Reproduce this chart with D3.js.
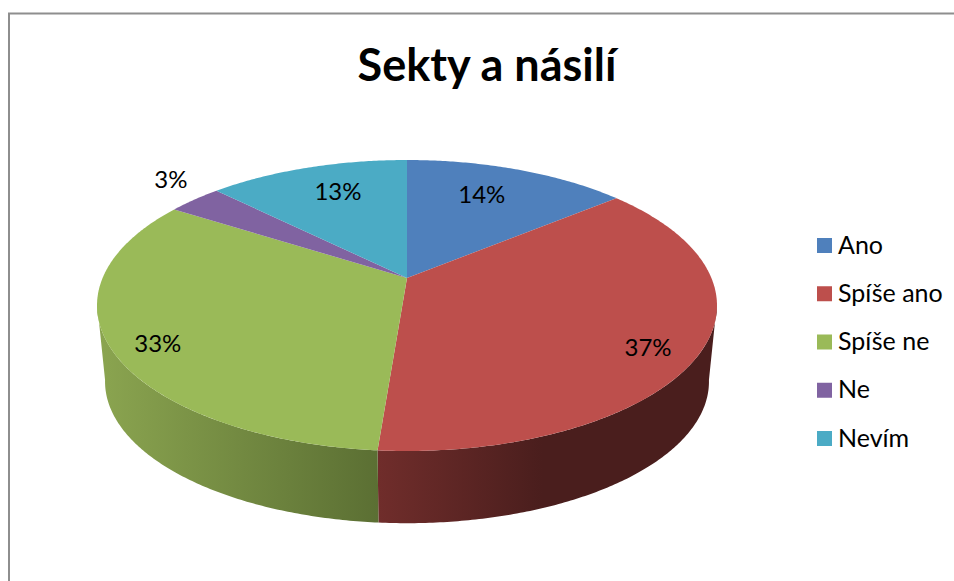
<!DOCTYPE html>
<html>
<head>
<meta charset="utf-8">
<script src="https://cdn.jsdelivr.net/npm/d3@7"></script>
<style>
  html, body { margin: 0; padding: 0; background: #fff; }
  text { font-family: Lato, "Open Sans", sans-serif; fill: #000; }
</style>
</head>
<body>
<div id="chart"></div>
<script>
var width = 954;
var height = 581;

// values, the labels show them rounded
var categories = ["Ano", "Spíše ano", "Spíše ne", "Ne", "Nevím"];
var shares = [14.0, 37.25, 32.8, 3.4, 12.55];
var colors = ["#4f80bc", "#bd4f4c", "#9aba58", "#8063a1", "#4babc5"];
var wallColors = [
  ["#3a5f8c", "#3a5f8c"],
  ["#4a1e1d", "#702d2b"],
  ["#8ba550", "#5b6f33"],
  ["#5e4a78", "#5e4a78"],
  ["#377f92", "#377f92"]
];

// label placement: radius on the pie, then a nudge down or up
var labelRadius = [0.64, 0.828, 0.849, 1.126, 0.658];
var labelNudge = [-2, 20, 17, -3, -2];

var svg = d3.select("#chart").append("svg")
  .attr("width", width)
  .attr("height", height)
  .style("display", "block");

// frame
svg.append("path")
  .attr("d", "M9,581V13.5H954")
  .attr("fill", "none")
  .attr("stroke", "#8e8e8e")
  .attr("stroke-width", 2);

svg.append("text")
  .attr("x", 487)
  .attr("y", 81)
  .attr("text-anchor", "middle")
  .attr("font-size", "45px")
  .attr("font-weight", "bold")
  .text("Sekty a násilí");

// perspective of the tilted disc
var centerX = 407;
var topY = 278;
var scaleX = 304.4;
var scaleY = 140.3;
var persp = 0.189;
var bottomY = 355.5;
var bottomScale = 0.975;

function project(angle, radius, y0) {
  var u = Math.sin(angle) * radius;
  var v = Math.cos(angle) * radius;
  var w = 1 + persp * v;
  return [centerX + scaleX * u / w, y0 - scaleY * v / w];
}

function arcAngles(a0, a1) {
  var n = Math.max(2, Math.ceil((a1 - a0) / 0.01));
  return d3.range(n + 1).map(function (i) {
    return a0 + (a1 - a0) * i / n;
  });
}

var line = d3.line();
var pie = d3.pie().sort(null).value(function (d) { return d; });
var slices = pie(shares);

var colorScale = d3.scaleOrdinal().domain(categories).range(colors);

// side wall is only seen on the front half
var wallStart = 100 * Math.PI / 180;
var wallEnd = 260 * Math.PI / 180;

var defs = svg.append("defs");

slices.forEach(function (d, i) {
  var a0 = Math.max(d.startAngle, wallStart);
  var a1 = Math.min(d.endAngle, wallEnd);
  if (a1 <= a0) return;

  var angles = arcAngles(a0, a1);
  var upper = angles.map(function (a) { return project(a, 1, topY); });
  var lower = angles.map(function (a) { return project(a, bottomScale, bottomY); }).reverse();
  var points = upper.concat(lower);

  var extentX = d3.extent(points, function (p) { return p[0]; });
  var grad = defs.append("linearGradient")
    .attr("id", "wall" + i)
    .attr("gradientUnits", "userSpaceOnUse")
    .attr("x1", extentX[0])
    .attr("x2", i === 1 ? extentX[0] + 165 : extentX[1])
    .attr("y1", 0)
    .attr("y2", 0);

  // red gets lighter towards its left end
  var stops = i === 1 ? [wallColors[i][1], wallColors[i][0]] : wallColors[i];
  grad.append("stop").attr("offset", 0).attr("stop-color", stops[0]);
  grad.append("stop").attr("offset", 1).attr("stop-color", stops[1]);

  svg.append("path")
    .attr("d", line(points) + "Z")
    .attr("fill", "url(#wall" + i + ")");
});

// top face
svg.selectAll("path.slice")
  .data(slices)
  .enter()
  .append("path")
  .attr("class", "slice")
  .attr("fill", function (d, i) { return colorScale(categories[i]); })
  .attr("d", function (d) {
    var rim = arcAngles(d.startAngle, d.endAngle).map(function (a) {
      return project(a, 1, topY);
    });
    return line([[centerX, topY]].concat(rim)) + "Z";
  });

// percent labels
var total = d3.sum(shares);
var percent = d3.format(".0%");

svg.selectAll("text.pct")
  .data(slices)
  .enter()
  .append("text")
  .attr("class", "pct")
  .attr("text-anchor", "middle")
  .attr("font-size", "24px")
  .attr("x", function (d, i) {
    return project((d.startAngle + d.endAngle) / 2, labelRadius[i], topY)[0];
  })
  .attr("y", function (d, i) {
    return project((d.startAngle + d.endAngle) / 2, labelRadius[i], topY)[1] + labelNudge[i];
  })
  .text(function (d) { return percent(d.value / total); });

// legend
var legendY = d3.scalePoint().domain(categories).range([245.5, 438.5]);

var legend = svg.selectAll("g.legend")
  .data(categories)
  .enter()
  .append("g")
  .attr("class", "legend")
  .attr("transform", function (d) { return "translate(817," + legendY(d) + ")"; });

legend.append("rect")
  .attr("y", -7.5)
  .attr("width", 15)
  .attr("height", 15)
  .attr("fill", function (d) { return colorScale(d); });

legend.append("text")
  .attr("x", 21)
  .attr("y", 8)
  .attr("font-size", "25px")
  .text(function (d) { return d; });
</script>
</body>
</html>
